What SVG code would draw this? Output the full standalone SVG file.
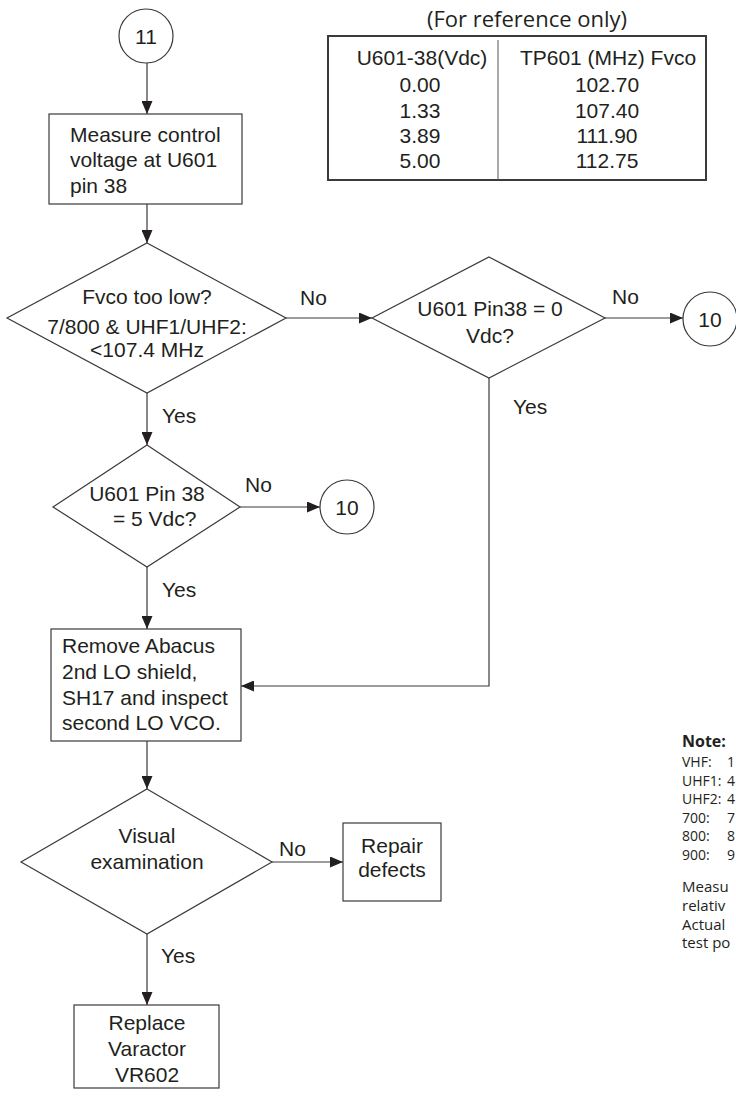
<svg xmlns="http://www.w3.org/2000/svg" width="736" height="1099" viewBox="0 0 736 1099">
<defs>
<marker id="arr" markerUnits="userSpaceOnUse" markerWidth="13" markerHeight="11" refX="13" refY="5.5" orient="auto">
<path d="M0,0 L13,5.5 L0,11 z" fill="#231f20"/>
</marker>
<style>
.s{fill:#fff;stroke:#3a3a3a;stroke-width:1.2}
.t{font-family:"Liberation Sans",Arial,sans-serif;font-size:21px;fill:#231f20}
.m{text-anchor:middle}
.c{fill:none;stroke:#3a3a3a;stroke-width:1.2;marker-end:url(#arr)}
.n{font-family:"Open Sans","Noto Sans",sans-serif;fill:#231f20}
</style>
</defs>
<rect width="736" height="1099" fill="#fff"/>

<g id="connectors">
<line class="c" x1="147" y1="63" x2="147" y2="114"/>
<line class="c" x1="147" y1="204" x2="147" y2="243"/>
<line class="c" x1="286" y1="318" x2="372" y2="318"/>
<line class="c" x1="605" y1="318" x2="683" y2="318"/>
<line class="c" x1="147" y1="393" x2="147" y2="445"/>
<line class="c" x1="240" y1="507" x2="320" y2="507"/>
<line class="c" x1="147" y1="567" x2="147" y2="629"/>
<path class="c" d="M489,378 V686 H241"/>
<line class="c" x1="147" y1="741" x2="147" y2="789"/>
<line class="c" x1="272" y1="862" x2="343" y2="862"/>
<line class="c" x1="147" y1="934" x2="147" y2="1005"/>
<text class="t" x="300" y="305">No</text>
<text class="t" x="612" y="304">No</text>
<text class="t" x="513" y="414">Yes</text>
<text class="t" x="162" y="423">Yes</text>
<text class="t" x="245" y="492">No</text>
<text class="t" x="162" y="597">Yes</text>
<text class="t" x="279" y="856">No</text>
<text class="t" x="161" y="963">Yes</text>
</g>

<g id="c11">
<circle class="s" cx="146" cy="36" r="27"/>
<text class="t m" x="146" y="44">11</text>
</g>

<g id="box1">
<rect class="s" x="49" y="114" width="193" height="90"/>
<text class="t" x="70" y="142">Measure control</text>
<text class="t" x="70" y="167">voltage at U601</text>
<text class="t" x="70" y="193">pin 38</text>
</g>

<g id="table">
<text class="n m" x="527" y="27" font-size="22">(For reference only)</text>
<rect x="328" y="36" width="378" height="144" fill="none" stroke="#3a3a3a" stroke-width="2"/>
<line x1="498" y1="40" x2="498" y2="180" stroke="#555" stroke-width="1"/>
<text class="t m" x="422" y="65">U601-38(Vdc)</text>
<text class="t m" x="420" y="92">0.00</text>
<text class="t m" x="420" y="118">1.33</text>
<text class="t m" x="420" y="143">3.89</text>
<text class="t m" x="420" y="168">5.00</text>
<text class="t m" x="608" y="65">TP601 (MHz) Fvco</text>
<text class="t m" x="607" y="92">102.70</text>
<text class="t m" x="607" y="118">107.40</text>
<text class="t m" x="607" y="143">111.90</text>
<text class="t m" x="607" y="168">112.75</text>
</g>

<g id="d1">
<polygon class="s" points="147,243 286,318 147,393 7,318"/>
<text class="t m" x="147" y="304">Fvco too low?</text>
<text class="t m" x="147" y="334">7/800 &amp; UHF1/UHF2:</text>
<text class="t m" x="147" y="357">&lt;107.4 MHz</text>
</g>

<g id="d2">
<polygon class="s" points="489,257 605,318 489,378 372,318"/>
<text class="t m" x="490" y="316">U601 Pin38 = 0</text>
<text class="t m" x="490" y="343">Vdc?</text>
</g>

<g id="c10a">
<circle class="s" cx="710" cy="319" r="27"/>
<text class="t m" x="710" y="327">10</text>
</g>

<g id="d3">
<polygon class="s" points="147,445 240,507 147,567 53,507"/>
<text class="t m" x="147" y="501">U601 Pin 38</text>
<text class="t" x="113" y="526">= 5 Vdc?</text>
</g>

<g id="c10b">
<circle class="s" cx="347" cy="507" r="27"/>
<text class="t m" x="347" y="515">10</text>
</g>

<g id="box2">
<rect class="s" x="51" y="629" width="190" height="112"/>
<text class="t" x="62" y="653">Remove Abacus</text>
<text class="t" x="62" y="679">2nd LO shield,</text>
<text class="t" x="62" y="705">SH17 and inspect</text>
<text class="t" x="62" y="730">second LO VCO.</text>
</g>

<g id="d4">
<polygon class="s" points="147,789 272,862 147,934 21,862"/>
<text class="t m" x="147" y="843">Visual</text>
<text class="t m" x="147" y="869">examination</text>
</g>

<g id="repair">
<rect class="s" x="343" y="823" width="98" height="78"/>
<text class="t m" x="392" y="853">Repair</text>
<text class="t m" x="392" y="877">defects</text>
</g>

<g id="box3">
<rect class="s" x="74" y="1005" width="145" height="83"/>
<text class="t m" x="147" y="1030">Replace</text>
<text class="t m" x="147" y="1056">Varactor</text>
<text class="t m" x="147" y="1082">VR602</text>
</g>

<g id="note">
<text class="n" x="682" y="747" font-size="16" font-weight="bold">Note:</text>
<g font-size="14">
<text class="n" x="682" y="767">VHF:<tspan x="727">1</tspan></text>
<text class="n" x="682" y="786">UHF1:<tspan x="727">4</tspan></text>
<text class="n" x="682" y="804">UHF2:<tspan x="727">4</tspan></text>
<text class="n" x="682" y="823">700:<tspan x="727">7</tspan></text>
<text class="n" x="682" y="841">800:<tspan x="727">8</tspan></text>
<text class="n" x="682" y="860">900:<tspan x="727">9</tspan></text>
</g>
<g font-size="15">
<text class="n" x="682" y="892">Measu</text>
<text class="n" x="682" y="911">relativ</text>
<text class="n" x="682" y="930">Actual</text>
<text class="n" x="682" y="948">test po</text>
</g>
</g>
</svg>
